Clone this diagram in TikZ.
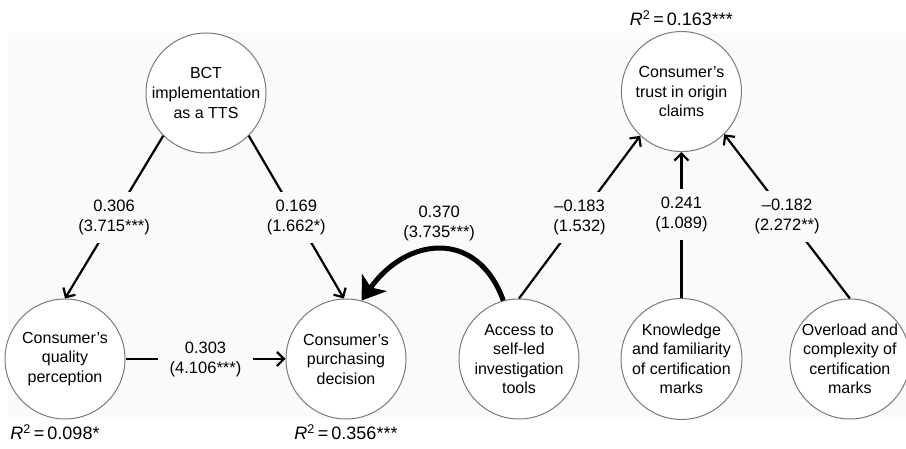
\documentclass[tikz,border=0pt]{standalone}
\usepackage{fontspec}
\setmainfont{Liberation Sans}
\usetikzlibrary{arrows.meta, positioning}
\definecolor{panelgray}{HTML}{FAFAFA}
\definecolor{ringgray}{HTML}{7A7A7A}

\begin{document}
\begin{tikzpicture}[
    x=1pt, y=1pt,
    every node/.style={font=\fontsize{16}{19.5}\selectfont},
    construct/.style={circle, draw=ringgray, line width=1pt, fill=white, minimum size=120pt, inner sep=0pt, align=center},
    coef/.style={fill=panelgray, inner xsep=12pt, inner ysep=8pt, align=center, font=\fontsize{16.5}{20}\selectfont},
    rsq/.style={inner sep=2pt, font=\fontsize{18}{20}\selectfont},
    path/.style={-{Straight Barb[length=7pt, width=14pt]}, line width=2.2pt},
    effect/.style={-{Stealth[length=22pt, width=30pt, inset=6pt]}, line width=5pt},
]
    \useasboundingbox (0,0) rectangle (906,449);
    \fill[panelgray] (8,30) rectangle (906,416);

    \node[construct] (qual) at (65,90) {Consumer's\\quality\\perception};
    \node[construct, right=160pt of qual] (purch) {Consumer's\\purchasing\\decision};
    \node[construct, right=52pt of purch] (access) {Access to\\self-led\\investigation\\tools};
    \node[construct, right=41pt of access] (know) {Knowledge\\and familiarity\\of certification\\marks};
    \node[construct, right=47pt of know] (overload) {Overload and\\complexity of\\certification\\marks};
    \node[construct, above=146pt of know] (trust) {Consumer's\\trust in origin\\claims};
    \node[construct] (bct) at (206,356) {BCT\\implementation\\as a TTS};

    % explained variance
    \node[rsq, below=3pt of qual, xshift=-10pt] (rqual) {\textit{R}\textsuperscript{2}\,=\,0.098*};
    \node[rsq, below=3pt of purch] (rpurch) {\textit{R}\textsuperscript{2}\,=\,0.356***};
    \node[rsq, above=3pt of trust] (rtrust) {\textit{R}\textsuperscript{2}\,=\,0.163***};

    \draw[path] (bct.-135) -- node[coef]{0.306\\(3.715***)} (qual.north);
    \draw[path] (bct.-45) -- node[coef]{0.169\\(1.662*)} (purch.92);
    \draw[path] (qual) -- node[coef]{0.303\\(4.106***)} (purch);
    \draw[path] (access.north) -- node[coef]{--0.183\\(1.532)} (trust.-133);
    \draw[path] (know) -- node[coef, pos=0.57]{0.241\\(1.089)} (trust);
    \draw[path] (overload.north) -- node[coef]{--0.182\\(2.272**)} (trust.-45);
    \draw[effect] (access.105) to[out=110, in=55, looseness=1.4] node[coef, above=4pt, inner ysep=2pt, fill=none]{0.370\\(3.735***)} (purch.75);
\end{tikzpicture}
\end{document}
